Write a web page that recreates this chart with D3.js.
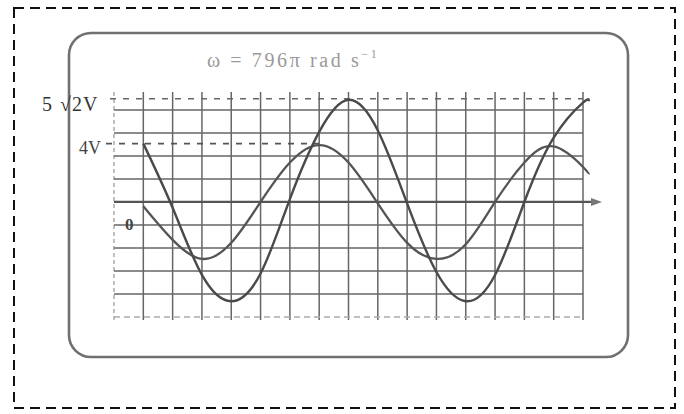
<!DOCTYPE html>
<html>
<head>
<meta charset="utf-8">
<script src="https://cdn.jsdelivr.net/npm/d3@7"></script>
<style>
  body { margin: 0; background: #fff; }
  text { font-family: "Liberation Serif", "DejaVu Serif", serif; }
</style>
</head>
<body>
<div id="chart"></div>
<script>
// time in grid divisions, voltages
var tTrace = [1, 2, 3, 4, 5, 6, 7, 8, 9, 10, 11, 12, 13, 14, 15, 16, 16.2];
var vLarge = [4.0, -0.4, -5.0, -6.8, -4.9, 0.2, 4.8, 7.0, 4.9, -0.1, -4.8, -6.8, -5.0, 0.0, 4.4, 6.8, 6.9];
var vSmall = [-0.3, -2.6, -3.9, -2.8, 0.0, 2.7, 3.9, 2.7, -0.1, -2.8, -3.9, -2.9, 0.0, 2.7, 3.8, 2.4, 1.9];

var levelValues = [7.07, 4, 0];
var levelLabels = ["5", "\u221A2V", "4V", "0"];
var gridCols = d3.range(0, 17);      // vertical grid lines (divisions)
var gridRows = d3.range(-5, 5);      // horizontal grid lines (divisions)

var width = 684, height = 414;

var svg = d3.select("#chart")
    .append("svg")
    .attr("width", width)
    .attr("height", height);

var x = d3.scaleLinear().domain([0, 16]).range([114, 583]);
var yDiv = d3.scaleLinear().domain([-5, 4]).range([317, 110]);
var y = d3.scaleLinear().domain([-7.88, 6.3]).range([317, 110]);

// outer dashed frame
svg.append("rect")
    .attr("x", 14).attr("y", 8)
    .attr("width", 661).attr("height", 400)
    .attr("fill", "none")
    .attr("stroke", "#111")
    .attr("stroke-width", 2)
    .attr("stroke-dasharray", "10,6");

// screen outline
svg.append("rect")
    .attr("x", 69).attr("y", 33)
    .attr("width", 559).attr("height", 324)
    .attr("rx", 22).attr("ry", 22)
    .attr("fill", "none")
    .attr("stroke", "#707070")
    .attr("stroke-width", 2.6);

// title
var title = svg.append("text")
    .attr("x", 207).attr("y", 67)
    .attr("font-size", 20)
    .attr("letter-spacing", 2.6)
    .attr("fill", "#9a9a9a")
    .text("\u03C9 = 796\u03C0 rad s");
title.append("tspan")
    .attr("dy", -9)
    .attr("font-size", 12)
    .text("\u22121");

var grid = svg.append("g");

grid.selectAll(".col")
    .data(gridCols)
    .enter().append("line")
    .attr("x1", function(d) { return x(d); })
    .attr("x2", function(d) { return x(d); })
    .attr("y1", 92)
    .attr("y2", 320)
    .attr("stroke", function(d) { return d == 0 ? "#aaa" : "#666"; })
    .attr("stroke-width", 1.5)
    .attr("stroke-dasharray", function(d) { return d == 0 ? "4,3" : null; });

grid.selectAll(".row")
    .data(gridRows.filter(function(d) { return d != 0; }))
    .enter().append("line")
    .attr("x1", x(0))
    .attr("x2", x(16))
    .attr("y1", function(d) { return yDiv(d); })
    .attr("y2", function(d) { return yDiv(d); })
    .attr("stroke", function(d) { return d == -5 ? "#aaa" : "#666"; })
    .attr("stroke-width", 1.5)
    .attr("stroke-dasharray", function(d) { return d == -5 ? "6,4" : null; });

// time axis with arrow
svg.append("line")
    .attr("x1", x(0)).attr("x2", x(16) + 10)
    .attr("y1", y(0)).attr("y2", y(0))
    .attr("stroke", "#555")
    .attr("stroke-width", 2.2);
svg.append("path")
    .attr("d", d3.line()([[x(16) + 8, y(0) - 4], [x(16) + 19, y(0)], [x(16) + 8, y(0) + 4]]))
    .attr("fill", "#777");

// dashed level lines for the peaks
svg.append("line")
    .attr("x1", 110).attr("x2", x(16))
    .attr("y1", y(levelValues[0])).attr("y2", y(levelValues[0]))
    .attr("stroke", "#666")
    .attr("stroke-width", 1.5)
    .attr("stroke-dasharray", "6,7");
svg.append("line")
    .attr("x1", 106).attr("x2", x(7))
    .attr("y1", y(levelValues[1])).attr("y2", y(levelValues[1]))
    .attr("stroke", "#555")
    .attr("stroke-width", 1.6)
    .attr("stroke-dasharray", "6,7");

// level labels
var peakLabel = svg.append("text")
    .attr("x", 42).attr("y", 111)
    .attr("font-size", 20)
    .attr("fill", "#333")
    .text(levelLabels[0]);
peakLabel.append("tspan")
    .attr("dx", 8)
    .attr("letter-spacing", 1)
    .text(levelLabels[1]);
svg.append("text")
    .attr("x", 79).attr("y", 154)
    .attr("font-size", 18)
    .attr("fill", "#444")
    .text(levelLabels[2]);
svg.append("text")
    .attr("x", 125).attr("y", 230)
    .attr("font-size", 17)
    .attr("font-weight", "bold")
    .attr("fill", "#444")
    .text(levelLabels[3]);

// traces
var line = d3.line()
    .x(function(d, i) { return x(tTrace[i]); })
    .y(function(d) { return y(d); })
    .curve(d3.curveNatural);

svg.append("path")
    .attr("d", line(vSmall))
    .attr("fill", "none")
    .attr("stroke", "#555")
    .attr("stroke-width", 2.3);

svg.append("path")
    .attr("d", line(vLarge))
    .attr("fill", "none")
    .attr("stroke", "#4a4a4a")
    .attr("stroke-width", 2.4);
</script>
</body>
</html>
